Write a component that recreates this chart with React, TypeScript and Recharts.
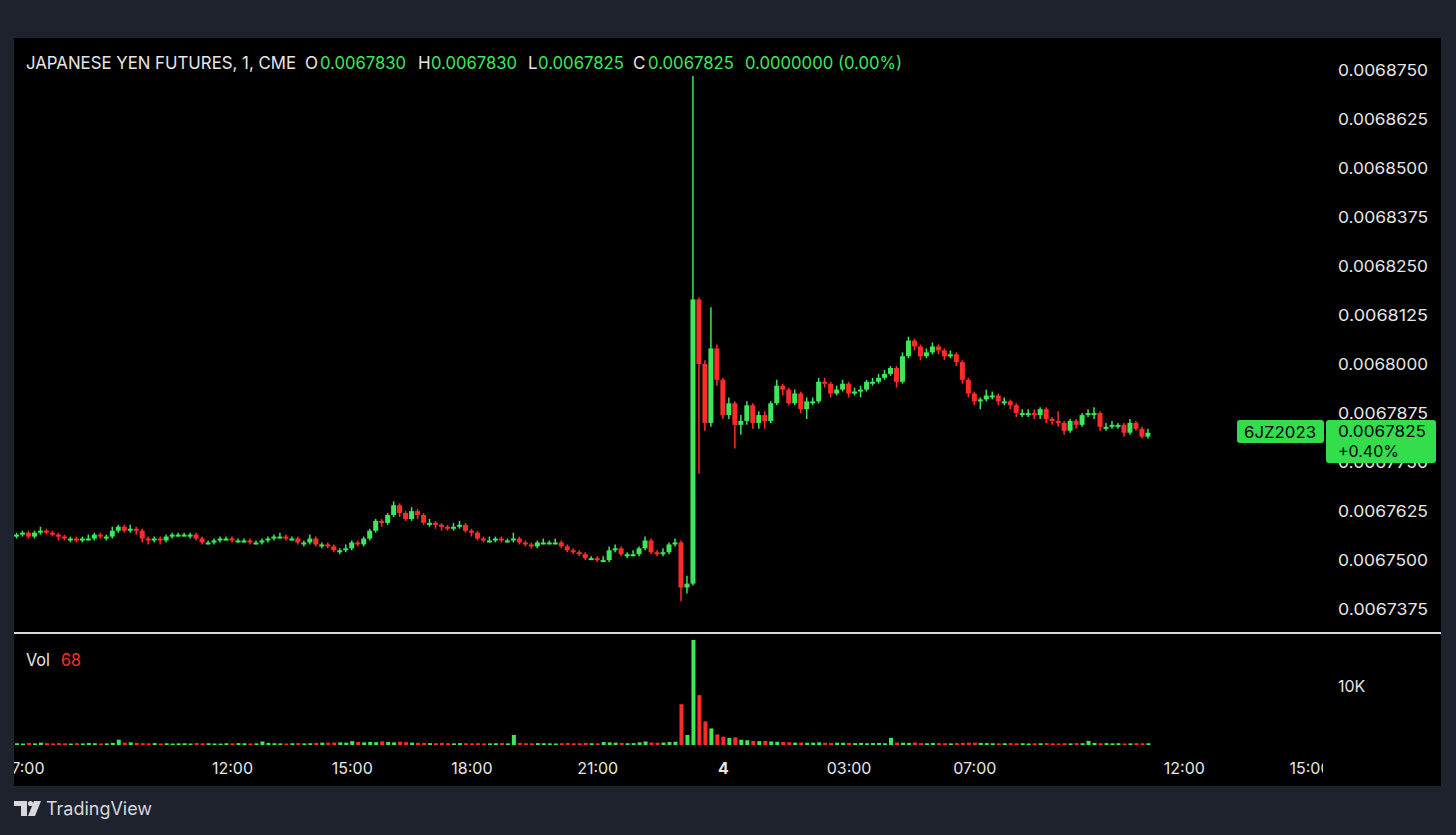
import React from "react";
import { ComposedChart, Bar, XAxis, YAxis } from "recharts";

const FONT = "Inter, Roboto, 'Noto Sans', sans-serif";
const GREEN = "#3ee65c";
const RED = "#ff2b2b";
const LABEL_GREEN = "#33dd4c";
const TEXT = "#e6e6e6";

// prices in units of 0.0000001
const firstOpen = 67560;
const closes = [
  67565, 67570, 67560, 67570, 67575, 67570, 67565, 67560, 67555, 67555,
  67550, 67555, 67555, 67565, 67560, 67560, 67575, 67585, 67575, 67580,
  67575, 67555, 67550, 67555, 67550, 67560, 67565, 67565, 67565, 67565,
  67555, 67545, 67545, 67550, 67555, 67555, 67550, 67550, 67550, 67545,
  67545, 67550, 67555, 67560, 67560, 67555, 67555, 67545, 67545, 67555,
  67540, 67540, 67535, 67525, 67525, 67530, 67545, 67540, 67555, 67575,
  67600, 67595, 67615, 67640, 67620, 67605, 67625, 67615, 67595, 67595,
  67590, 67585, 67580, 67585, 67590, 67575, 67570, 67555, 67550, 67550,
  67555, 67550, 67550, 67555, 67545, 67540, 67535, 67545, 67545, 67545,
  67545, 67535, 67525, 67520, 67515, 67505, 67505, 67500, 67500, 67525,
  67530, 67515, 67515, 67515, 67530, 67550, 67520, 67515, 67520, 67540,
  67545, 67430, 67440, 68165, 68000, 67850, 68040, 67960, 67870, 67900,
  67845, 67855, 67895, 67850, 67870, 67855, 67900, 67945, 67935, 67900,
  67925, 67885, 67905, 67905, 67955, 67950, 67925, 67935, 67950, 67925,
  67930, 67935, 67955, 67955, 67965, 67975, 67990, 67955, 68020, 68060,
  68045, 68020, 68030, 68045, 68035, 68020, 68025, 68005, 67960, 67925,
  67905, 67910, 67920, 67920, 67905, 67905, 67895, 67875, 67875, 67875,
  67870, 67885, 67860, 67855, 67850, 67830, 67855, 67845, 67870, 67875,
  67875, 67840, 67840, 67845, 67845, 67825, 67850, 67835, 67815, 67825,
];
const highs = [
  67570, 67575, 67575, 67575, 67585, 67580, 67575, 67570, 67565, 67560,
  67560, 67560, 67565, 67570, 67570, 67565, 67585, 67590, 67590, 67590,
  67585, 67580, 67560, 67560, 67560, 67565, 67570, 67570, 67570, 67570,
  67570, 67560, 67550, 67555, 67560, 67560, 67560, 67555, 67555, 67555,
  67550, 67555, 67560, 67565, 67570, 67565, 67560, 67560, 67550, 67565,
  67560, 67545, 67545, 67540, 67530, 67540, 67550, 67550, 67560, 67580,
  67605, 67605, 67620, 67650, 67645, 67625, 67635, 67630, 67620, 67605,
  67600, 67595, 67590, 67595, 67600, 67595, 67580, 67575, 67560, 67560,
  67560, 67560, 67555, 67570, 67560, 67550, 67545, 67550, 67555, 67550,
  67555, 67550, 67540, 67530, 67525, 67520, 67510, 67510, 67510, 67535,
  67540, 67535, 67520, 67525, 67535, 67560, 67555, 67525, 67530, 67545,
  67555, 67550, 67460, 68735, 68170, 68010, 68145, 68050, 67965, 67915,
  67905, 67870, 67905, 67900, 67880, 67880, 67905, 67960, 67950, 67940,
  67935, 67930, 67915, 67915, 67965, 67965, 67955, 67945, 67960, 67955,
  67940, 67945, 67960, 67965, 67975, 67985, 67995, 67995, 68030, 68070,
  68065, 68050, 68040, 68055, 68050, 68040, 68035, 68030, 68010, 67965,
  67930, 67915, 67935, 67930, 67925, 67915, 67910, 67900, 67885, 67885,
  67885, 67890, 67890, 67865, 67880, 67855, 67860, 67860, 67875, 67885,
  67890, 67880, 67850, 67855, 67850, 67850, 67860, 67855, 67840, 67835,
];
const lows = [
  67555, 67560, 67555, 67555, 67565, 67565, 67560, 67550, 67550, 67545,
  67545, 67545, 67550, 67550, 67555, 67550, 67555, 67570, 67570, 67570,
  67565, 67545, 67540, 67545, 67540, 67545, 67555, 67560, 67560, 67555,
  67550, 67540, 67540, 67540, 67545, 67550, 67545, 67545, 67545, 67540,
  67540, 67540, 67545, 67550, 67555, 67550, 67550, 67540, 67535, 67540,
  67535, 67530, 67530, 67520, 67515, 67520, 67525, 67535, 67535, 67550,
  67570, 67585, 67590, 67610, 67610, 67600, 67600, 67605, 67590, 67585,
  67580, 67575, 67575, 67575, 67580, 67570, 67560, 67550, 67545, 67545,
  67545, 67545, 67545, 67545, 67540, 67535, 67530, 67530, 67540, 67540,
  67540, 67530, 67520, 67515, 67510, 67500, 67500, 67495, 67495, 67495,
  67520, 67510, 67505, 67510, 67510, 67525, 67515, 67510, 67510, 67515,
  67535, 67395, 67415, 67435, 67720, 67830, 67840, 67945, 67860, 67860,
  67785, 67820, 67845, 67835, 67835, 67835, 67850, 67895, 67920, 67895,
  67895, 67875, 67860, 67895, 67900, 67940, 67915, 67920, 67930, 67915,
  67920, 67915, 67930, 67945, 67950, 67960, 67970, 67940, 67950, 68015,
  68035, 68010, 68015, 68025, 68025, 68010, 68015, 67995, 67950, 67915,
  67895, 67885, 67905, 67910, 67895, 67895, 67885, 67865, 67865, 67865,
  67860, 67860, 67850, 67845, 67840, 67820, 67825, 67835, 67840, 67865,
  67860, 67830, 67830, 67835, 67835, 67815, 67820, 67830, 67810, 67810,
];
const volumes = [
  300, 250, 350, 280, 400, 300, 260, 320, 280, 250, 300, 270, 330, 300, 260, 280, 350,
  900,
  400, 450, 350, 300, 280, 320, 260, 300, 250, 280, 300, 260, 320, 280, 300, 260, 240, 300, 280, 320, 300, 260, 280,
  600,
  350, 300, 280, 260, 300, 320, 280, 300, 350, 400, 380, 420, 450, 400,
  650,
  500, 450, 520, 480, 600, 500, 450, 550, 480,
  400, 380, 350, 320, 300, 350, 300, 280, 320, 300, 280, 300, 260, 280, 300, 320, 280,
  1700,
  350, 300, 280, 320, 300, 280, 260, 300, 320, 280, 300, 350, 300, 280,
  500,
  450, 400, 350, 300, 320, 450, 600, 400, 380, 420, 500, 550,
  6900, 1700, 17800, 8450, 4000, 2800, 1800, 1400, 1200, 1300, 900, 800, 700, 650, 700, 600, 550, 500,
  450, 400, 420, 380, 400, 450, 380, 350, 400, 380, 350, 320, 350, 300, 330, 350, 300,
  1200, 400,
  380, 350, 400, 320, 300, 350, 320, 300, 280, 320, 350, 400, 380, 350, 320, 300, 280, 300, 320, 280,
  300, 260, 280, 300, 320, 280, 260, 300, 280, 320, 300, 700, 350, 300, 320, 280, 300, 260, 280, 300,
  280, 300,
];
const emptySlots = 29;
const priceTicks = [67375, 67500, 67625, 67750, 67875, 68000, 68125, 68250, 68375, 68500, 68625, 68750];
const volTicks = [10000];
const timeTickIdx = [1, 36, 56, 76, 97, 118, 139, 160, 195, 216];
const timeTickLabels = ["07:00", "12:00", "15:00", "18:00", "21:00", "4", "03:00", "07:00", "12:00", "15:00"];

type Row = {
  idx: number;
  open?: number;
  close?: number;
  high?: number;
  low?: number;
  range?: [number, number];
  vol?: number;
};

const rows: Row[] = [];
for (let i = 0; i < closes.length + emptySlots; i++) {
  if (i < closes.length) {
    const open = i === 0 ? firstOpen : closes[i - 1];
    rows.push({
      idx: i,
      open,
      close: closes[i],
      high: highs[i],
      low: lows[i],
      range: [lows[i], highs[i]],
      vol: volumes[i],
    });
  } else {
    rows.push({ idx: i });
  }
}

const Candle = (props: any) => {
  const { x, y, width, height, payload } = props;
  if (!payload || payload.open == null || x == null || y == null) return null;
  const { open, close, high, low } = payload;
  const top = Math.min(y, y + height);
  const h = Math.abs(height);
  const span = high - low || 1;
  const px = h / span;
  const up = close >= open;
  const color = up ? GREEN : RED;
  const bodyTop = top + (high - Math.max(open, close)) * px;
  const bodyH = Math.max(2, Math.abs(close - open) * px);
  const cx = x + width / 2;
  return (
    <g>
      <line x1={cx} x2={cx} y1={top} y2={top + Math.max(h, 1)} stroke={color} strokeWidth={1.5} />
      <rect x={x} y={bodyTop} width={width} height={bodyH} fill={color} />
    </g>
  );
};

const VolBar = (props: any) => {
  const { x, y, width, height, payload } = props;
  if (!payload || payload.vol == null || x == null || y == null) return null;
  const color = payload.close >= payload.open ? GREEN : RED;
  const top = Math.min(y, y + height);
  return <rect x={x} y={top} width={width} height={Math.max(1.5, Math.abs(height))} fill={color} />;
};

const PriceTick = (props: any) => {
  const { y, payload } = props;
  return (
    <text x={1324} y={y} dominantBaseline="central" fill={TEXT} fontSize={16} fontFamily={FONT}
      textLength={90} lengthAdjust="spacingAndGlyphs">
      {(payload.value / 1e7).toFixed(7)}
    </text>
  );
};

const VolTick = (props: any) => {
  const { y, payload } = props;
  return (
    <text x={1324} y={y} dominantBaseline="central" fill={TEXT} fontSize={16} fontFamily={FONT}>
      {payload.value / 1000 + "K"}
    </text>
  );
};

const TimeTick = (props: any) => {
  const { x, payload } = props;
  const k = timeTickIdx.indexOf(Number(payload.value));
  const label = k >= 0 ? timeTickLabels[k] : String(payload.value);
  const bold = label === "4";
  return (
    <text x={x} y={134} textAnchor="middle" dominantBaseline="central" fill={TEXT} fontSize={16}
      fontWeight={bold ? 700 : 400} fontFamily={FONT}>
      {label}
    </text>
  );
};

const T = (p: { x: number; y: number; len?: number; fill?: string; size?: number; children: React.ReactNode; anchor?: string; weight?: number }) => (
  <text x={p.x} y={p.y} fill={p.fill || TEXT} fontSize={p.size || 17} fontFamily={FONT}
    dominantBaseline="central" textAnchor={(p.anchor as any) || "start"} fontWeight={p.weight || 400}
    {...(p.len ? { textLength: p.len, lengthAdjust: "spacingAndGlyphs" } : {})}>
    {p.children}
  </text>
);

export default function App() {
  return (
    <div style={{ position: "absolute", left: 0, top: 0, width: 1456, height: 835, background: "#1e222d", overflow: "hidden" }}>
      <div style={{ position: "absolute", left: 14, top: 38, width: 1427, height: 748, background: "#000" }} />
      <div style={{ position: "absolute", left: 14, top: 38, width: 1427, height: 595, overflow: "hidden" }}>
        <ComposedChart width={1427} height={595} data={rows} margin={{ top: 0, right: 0, bottom: 0, left: 0 }}>
          <XAxis dataKey="idx" type="category" hide />
          <YAxis orientation="right" type="number" width={116} domain={[67314, 68832]} ticks={priceTicks}
            interval={0} allowDataOverflow axisLine={false} tickLine={false} tick={<PriceTick />} />
          <Bar dataKey="range" barSize={5} shape={Candle} isAnimationActive={false} />
        </ComposedChart>
      </div>
      <div style={{ position: "absolute", left: 14, top: 634, width: 1427, height: 152, overflow: "hidden" }}>
        <ComposedChart width={1427} height={152} data={rows} margin={{ top: 0, right: 0, bottom: 0, left: 0 }}>
          <XAxis dataKey="idx" type="category" ticks={timeTickIdx} interval={0} height={41}
            axisLine={false} tickLine={false} tick={<TimeTick />} />
          <YAxis orientation="right" type="number" width={116} domain={[0, 18800]} ticks={volTicks}
            interval={0} allowDataOverflow axisLine={false} tickLine={false} tick={<VolTick />} />
          <Bar dataKey="vol" barSize={4} shape={VolBar} isAnimationActive={false} />
        </ComposedChart>
      </div>
      <svg width={1456} height={835} style={{ position: "absolute", left: 0, top: 0, pointerEvents: "none" }}>
        {/* header */}
        <T x={26} y={63} len={270}>JAPANESE YEN FUTURES, 1, CME</T>
        <T x={305} y={63}>O</T>
        <T x={320} y={63} len={86} fill={GREEN}>0.0067830</T>
        <T x={418} y={63}>H</T>
        <T x={431} y={63} len={86} fill={GREEN}>0.0067830</T>
        <T x={528} y={63}>L</T>
        <T x={538} y={63} len={86} fill={GREEN}>0.0067825</T>
        <T x={633} y={63}>C</T>
        <T x={648} y={63} len={86} fill={GREEN}>0.0067825</T>
        <T x={745} y={63} len={157} fill={GREEN}>0.0000000 (0.00%)</T>
        {/* pane separator */}
        <rect x={14} y={632} width={1427} height={2} fill="#d9d9d9" />
        {/* volume legend */}
        <T x={26} y={660} len={24}>Vol</T>
        <T x={61} y={660} len={20} fill={RED}>68</T>
        {/* clip time labels at price scale */}
        <rect x={1323} y={748} width={118} height={38} fill="#000" />
        {/* last price labels */}
        <rect x={1237} y={420} width={87} height={23} rx={3} fill={LABEL_GREEN} />
        <T x={1280} y={432} anchor="middle" fill="#000" size={16} len={72}>6JZ2023</T>
        <rect x={1326} y={420} width={110} height={43} rx={3} fill={LABEL_GREEN} />
        <T x={1338} y={431} fill="#000" size={16} len={88}>0.0067825</T>
        <T x={1338} y={451} fill="#000" size={16} len={61}>+0.40%</T>
        {/* TradingView logo */}
        <g fill="#d6d8de">
          <path d="M14 801 H27 V816 H21 V806 H14 Z" />
          <circle cx={30.5} cy={803.5} r={2.6} />
          <path d="M34 801 H41 L35 816 H28 Z" />
        </g>
        <T x={46} y={808} fill="#d6d8de" size={18} len={106}>TradingView</T>
      </svg>
    </div>
  );
}
